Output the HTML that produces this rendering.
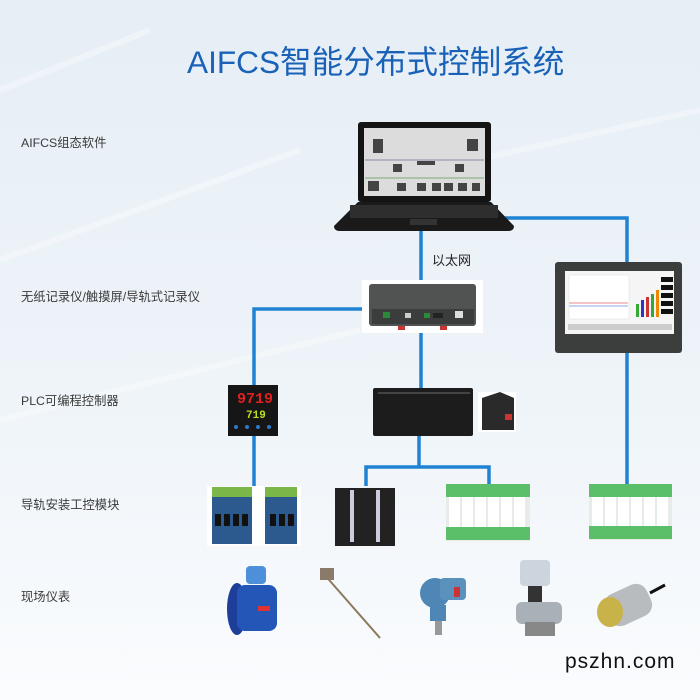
<!DOCTYPE html>
<html><head><meta charset="utf-8"><style>
body{margin:0}
#c{position:relative;width:700px;height:700px;overflow:hidden;background:linear-gradient(180deg,#e6eef6 0%,#edf3f8 50%,#f6f9fc 85%,#fbfcfe 100%);font-family:"Liberation Sans","Noto Sans CJK SC",sans-serif}
.l{position:absolute;left:21px;font-size:12.3px;color:#3a3a3a;line-height:14px;white-space:nowrap}
</style></head><body><div id="c">
<svg width="700" height="700" style="position:absolute;left:0;top:0">
<!-- faint background structure -->
<g stroke="#ffffff" stroke-opacity="0.35" stroke-width="6">
<line x1="0" y1="90" x2="150" y2="30"/><line x1="0" y1="260" x2="300" y2="150"/><line x1="0" y1="420" x2="360" y2="330"/><line x1="430" y1="170" x2="700" y2="110"/>
</g>
<!-- connectors -->
<g fill="none" stroke="#1f82d2" stroke-width="3.5">
<path d="M421 230 V282"/>
<path d="M505 218 H627 V262"/>
<path d="M627 352 V488"/>
<path d="M362 309 H254 V386"/>
<path d="M254 436 V488"/>
<path d="M421 333 V390"/>
<path d="M419 436 V467"/>
<path d="M366 486 V467 H489 V488"/>
</g>
<!-- laptop -->
<rect x="358" y="122" width="133" height="80" rx="3" fill="#141414"/>
<rect x="364" y="128" width="121" height="68" fill="#dcdcdc"/>
<g fill="#444"><rect x="373" y="139" width="10" height="14"/><rect x="467" y="139" width="11" height="12"/><rect x="417" y="161" width="18" height="4"/><rect x="393" y="164" width="9" height="8"/><rect x="455" y="164" width="9" height="8"/>
<rect x="368" y="181" width="11" height="10"/><rect x="397" y="183" width="9" height="8"/><rect x="417" y="183" width="9" height="8"/><rect x="432" y="183" width="9" height="8"/><rect x="444" y="183" width="9" height="8"/><rect x="458" y="183" width="9" height="8"/><rect x="472" y="183" width="8" height="8"/></g>
<line x1="365" y1="160" x2="484" y2="160" stroke="#88a" stroke-width="1"/><line x1="365" y1="178" x2="484" y2="178" stroke="#7a7" stroke-width="1"/>
<path d="M358 202 H491 L514 226 Q514 231 508 231 H340 Q334 231 334 226 Z" fill="#1a1a1a"/>
<rect x="350" y="205" width="148" height="13" fill="#2e2e2e"/>
<rect x="410" y="219" width="27" height="6" fill="#333"/>
<!-- ethernet controller -->
<rect x="362" y="280" width="121" height="53" fill="#fff"/>
<rect x="369" y="284" width="107" height="42" rx="3" fill="#505352"/>
<rect x="372" y="309" width="102" height="15" fill="#3b3d3c"/>
<rect x="383" y="312" width="7" height="6" fill="#2a8a3a"/><rect x="405" y="313" width="6" height="5" fill="#ccc"/><rect x="424" y="313" width="6" height="5" fill="#2a8a3a"/><rect x="433" y="313" width="10" height="5" fill="#222"/><rect x="455" y="311" width="8" height="7" fill="#ddd"/>
<rect x="398" y="326" width="7" height="4" fill="#c33"/><rect x="440" y="326" width="7" height="4" fill="#c33"/>
<!-- HMI -->
<rect x="555" y="262" width="127" height="91" rx="3" fill="#3c3e3e"/>
<rect x="565" y="271" width="109" height="63" fill="#f5f5f5"/>
<rect x="569" y="275" width="60" height="44" fill="#fff" stroke="#ddd" stroke-width="0.5"/>
<line x1="569" y1="303" x2="628" y2="303" stroke="#e88" stroke-width="1"/><line x1="569" y1="306" x2="628" y2="306" stroke="#8ae" stroke-width="1"/>
<g><rect x="636" y="304" width="3" height="13" fill="#3a3"/><rect x="641" y="300" width="3" height="17" fill="#33c"/><rect x="646" y="297" width="3" height="20" fill="#c33"/><rect x="651" y="294" width="3" height="23" fill="#3a3"/><rect x="656" y="290" width="3" height="27" fill="#e80"/></g>
<g fill="#111"><rect x="661" y="277" width="12" height="5"/><rect x="661" y="285" width="12" height="5"/><rect x="661" y="293" width="12" height="5"/><rect x="661" y="301" width="12" height="5"/><rect x="661" y="309" width="12" height="5"/></g>
<rect x="568" y="324" width="104" height="6" fill="#ccc"/>
<!-- temp controller -->
<rect x="228" y="385" width="50" height="51" fill="#161616"/>
<text x="237" y="403" font-family="Liberation Mono,monospace" font-size="15" font-weight="bold" fill="#e02020">9719</text>
<text x="246" y="418" font-family="Liberation Mono,monospace" font-size="11" font-weight="bold" fill="#b8e020">719</text>
<g fill="#2a7acc"><circle cx="236" cy="427" r="2"/><circle cx="247" cy="427" r="2"/><circle cx="258" cy="427" r="2"/><circle cx="269" cy="427" r="2"/></g>
<!-- PLC -->
<rect x="373" y="388" width="100" height="48" rx="2" fill="#1c1c1c"/>
<line x1="378" y1="393" x2="470" y2="393" stroke="#444" stroke-width="2"/>
<rect x="478" y="392" width="38" height="40" fill="#fff"/>
<path d="M482 398 L500 392 L514 398 V430 H482 Z" fill="#2a2a2a"/>
<rect x="505" y="414" width="7" height="6" fill="#c33"/>
<!-- modules -->
<rect x="207" y="486" width="94" height="60" fill="#fff"/>
<g fill="#2c5a8e"><rect x="212" y="496" width="40" height="48"/><rect x="265" y="491" width="32" height="53"/></g>
<g fill="#7ab648"><rect x="212" y="487" width="40" height="10"/><rect x="265" y="487" width="32" height="10"/></g>
<g fill="#111"><rect x="215" y="514" width="6" height="12"/><rect x="224" y="514" width="6" height="12"/><rect x="233" y="514" width="6" height="12"/><rect x="242" y="514" width="6" height="12"/><rect x="270" y="514" width="6" height="12"/><rect x="279" y="514" width="6" height="12"/><rect x="288" y="514" width="6" height="12"/></g>
<rect x="335" y="488" width="60" height="58" fill="#222"/>
<g fill="#ccd"><rect x="350" y="490" width="4" height="52"/><rect x="376" y="490" width="4" height="52"/></g>
<rect x="446" y="484" width="84" height="57" fill="#e8ece8"/>
<g fill="#5bbf6a"><rect x="446" y="484" width="84" height="13"/><rect x="446" y="527" width="84" height="13"/></g>
<g fill="#fff"><rect x="449" y="497" width="11" height="30"/><rect x="462" y="497" width="11" height="30"/><rect x="475" y="497" width="11" height="30"/><rect x="488" y="497" width="11" height="30"/><rect x="501" y="497" width="11" height="30"/><rect x="514" y="497" width="11" height="30"/></g>
<rect x="589" y="484" width="83" height="56" fill="#e8ece8"/>
<g fill="#5bbf6a"><rect x="589" y="484" width="83" height="13"/><rect x="589" y="526" width="83" height="13"/></g>
<g fill="#fff"><rect x="592" y="497" width="11" height="29"/><rect x="605" y="497" width="11" height="29"/><rect x="618" y="497" width="11" height="29"/><rect x="631" y="497" width="11" height="29"/><rect x="644" y="497" width="11" height="29"/><rect x="657" y="497" width="11" height="29"/></g>
<!-- field instruments -->
<rect x="246" y="566" width="20" height="18" rx="4" fill="#4d8fd8"/>
<ellipse cx="237" cy="609" rx="10" ry="26" fill="#1d3f9a"/>
<rect x="237" y="585" width="40" height="46" rx="8" fill="#2456b8"/>
<rect x="258" y="606" width="12" height="5" fill="#d33"/>
<line x1="323" y1="573" x2="380" y2="638" stroke="#8a7a5a" stroke-width="2"/>
<rect x="320" y="568" width="14" height="12" fill="#8a7a6a"/>
<circle cx="435" cy="593" r="15" fill="#4e87b5"/><rect x="440" y="578" width="26" height="22" rx="4" fill="#5a92bd"/>
<rect x="454" y="587" width="6" height="10" fill="#c33"/>
<rect x="430" y="605" width="16" height="16" fill="#4e87b5"/><rect x="435" y="621" width="7" height="14" fill="#999"/>
<rect x="520" y="560" width="30" height="26" rx="4" fill="#ccd4de"/>
<rect x="528" y="586" width="14" height="16" fill="#333"/>
<rect x="516" y="602" width="46" height="22" rx="6" fill="#a9b0b8"/>
<rect x="525" y="622" width="30" height="14" fill="#888"/>
<path d="M650 593 L665 585" stroke="#111" stroke-width="3"/>
<rect x="605" y="588" width="46" height="34" rx="12" fill="#b8bcbe" transform="rotate(-25 628 605)"/>
<ellipse cx="610" cy="612" rx="13" ry="15" fill="#c8b24a"/>
</svg>
<div style="position:absolute;left:187px;top:44px;font-size:31.6px;color:#1a62b8;white-space:nowrap;line-height:36px">AIFCS智能分布式控制系统</div>
<div class="l" style="top:136px">AIFCS组态软件</div>
<div class="l" style="top:290px">无纸记录仪/触摸屏/导轨式记录仪</div>
<div class="l" style="top:394px">PLC可编程控制器</div>
<div class="l" style="top:498px">导轨安装工控模块</div>
<div class="l" style="top:590px">现场仪表</div>
<div style="position:absolute;left:432px;top:250px;font-size:13px;color:#222">以太网</div>
<div style="position:absolute;left:565px;top:650px;font-size:21px;color:#111;letter-spacing:1px">pszhn.com</div>
</div></body></html>
